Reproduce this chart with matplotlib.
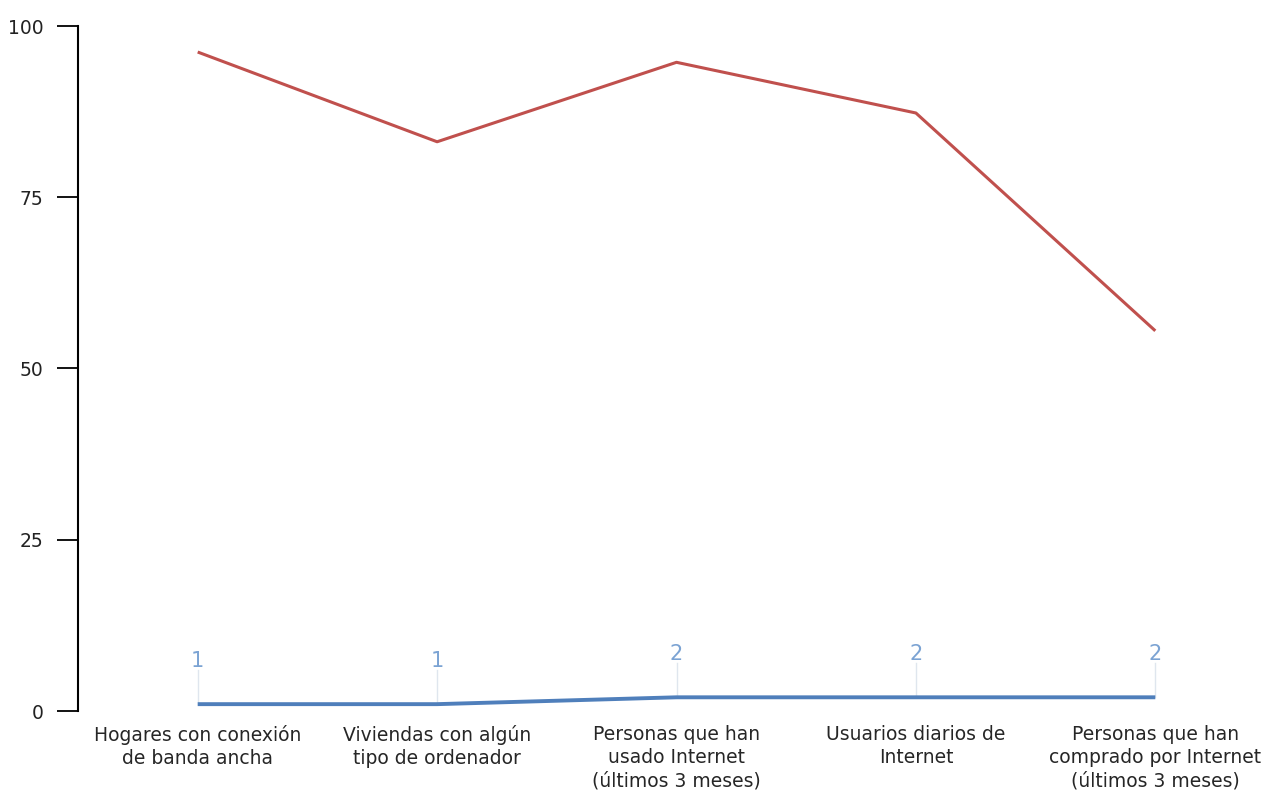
import matplotlib.pyplot as plt

categorias = [
    "Hogares con conexión\nde banda ancha",
    "Viviendas con algún\ntipo de ordenador",
    "Personas que han\nusado Internet\n(últimos 3 meses)",
    "Usuarios diarios de\nInternet",
    "Personas que han\ncomprado por Internet\n(últimos 3 meses)",
]
serie_roja = [96.2, 83.1, 94.7, 87.3, 55.5]
serie_azul = [1, 1, 2, 2, 2]
yticks = [0, 25, 50, 75, 100]

fig = plt.figure(figsize=(12.69, 8.05), dpi=100)
ax = fig.add_axes([78 / 1269, 1 - 711 / 805, 1197 / 1269, 685 / 805])

x = list(range(len(categorias)))
ax.plot(x, serie_roja, color="#c0504d", lw=2.2, solid_capstyle="butt", clip_on=False)
ax.plot(x, serie_azul, color="#4f7fbb", lw=2.8, solid_capstyle="butt", clip_on=False)

# etiquetas de valor de la serie azul con su guía vertical
for xi, v in zip(x, serie_azul):
    ax.plot([xi, xi], [v, v + 5], color="#dfe6ee", lw=1, zorder=1)
    ax.text(xi, v + 4.8, f"{v:g}", ha="center", va="bottom",
            color="#7ba3d3", fontsize=15)

ax.set_xlim(-0.5, 4.5)
ax.set_ylim(0, 100)
ax.set_yticks(yticks)
ax.set_xticks([])

for s in ("top", "right", "bottom"):
    ax.spines[s].set_visible(False)
ax.spines["left"].set_linewidth(1.5)
ax.tick_params(axis="y", length=15, width=1.3, pad=10, labelsize=13.5,
               labelcolor="#222222")

for xi, c in zip(x, categorias):
    ax.text(xi, -2.0, c, ha="center", va="top", fontsize=13.5,
            color="#262626", linespacing=1.28)

fig.savefig("out.png", dpi=100)
